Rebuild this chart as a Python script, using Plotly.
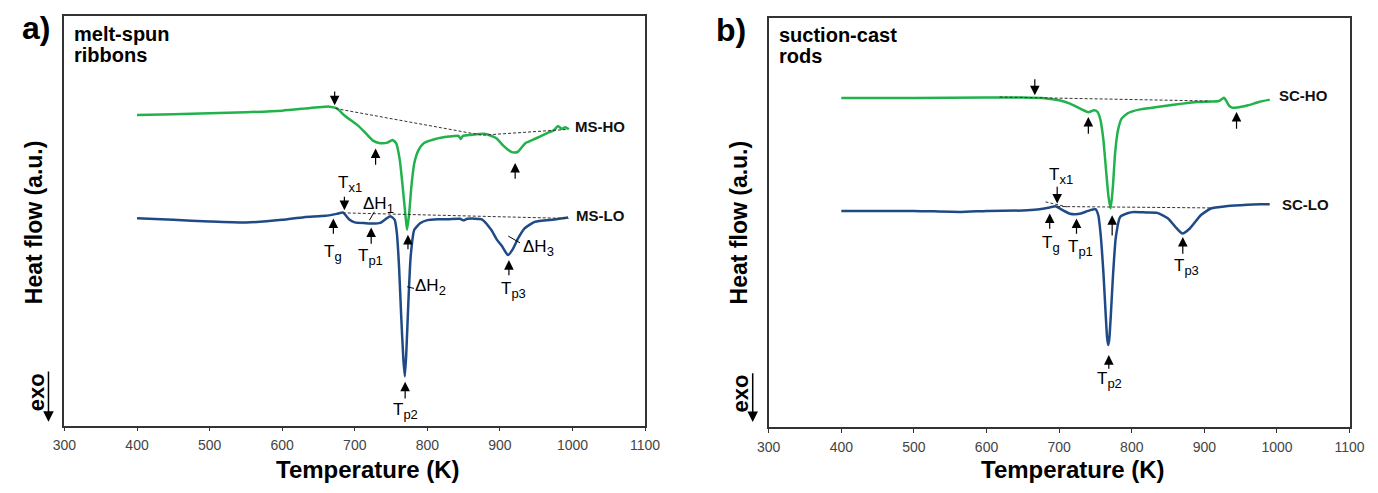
import plotly.graph_objects as go

# ---------------- data ----------------
# Panel a) melt-spun ribbons : temperature (K) and heat flow (a.u.)
ms_ho_T = [400, 450, 500, 550, 600, 630, 650, 665, 675, 685, 695, 705, 715, 725, 735, 745, 752, 757,
           762, 766, 770, 772, 775, 778, 782, 788, 795, 810, 830, 843, 846, 849, 860, 880, 895, 905,
           915, 920, 925, 935, 945, 955, 965, 975, 980, 985, 990, 995]
ms_ho_H = [311, 311.7, 312.7, 313.7, 315.3, 317.3, 318.7, 319.3, 317.7, 311, 305.3, 300, 292.7, 285.3,
           282.7, 283.3, 286, 282.7, 266, 239.3, 209.3, 196, 212.7, 239.3, 262.7, 276, 282.7, 286.7,
           289.3, 290, 287, 290, 291, 292, 287.7, 280, 274.3, 273.3, 274.3, 282.7, 286, 289.3, 292.7,
           296, 300, 297, 298.7, 296.7]

ms_lo_T = [400, 450, 500, 550, 600, 630, 660, 675, 684, 692, 700, 715, 725, 735, 743, 749, 755, 758,
           761, 764, 767, 769, 771, 774, 777, 782, 790, 800, 815, 830, 845, 850, 855, 875, 888, 896,
           903, 911, 918, 925, 934, 948, 975, 994]
ms_lo_H = [207.7, 206, 204.3, 203.3, 206, 208.7, 210, 212, 213.3, 206.5, 203.5, 202.7, 202.3, 203,
           207, 209.7, 206, 192.7, 159.3, 109.3, 66, 49.3, 72.7, 126, 169.3, 196, 202.5, 205.7, 206.5,
           206.7, 207, 205.5, 207, 206.5, 196, 186, 179.5, 170.7, 177, 187.4, 197.4, 204, 206.4, 208.4]

ms_ho_base_T = [673.5, 875.5, 990.7]
ms_ho_base_H = [317.4, 290.7, 296.4]
ms_lo_base_T = [683.5, 994.5]
ms_lo_base_H = [213.0, 207.4]

# Panel b) suction-cast rods
sc_ho_T = [400, 500, 600, 650, 680, 700, 715, 730, 740, 748, 753, 757, 761, 765, 768, 771, 774, 777,
           781, 786, 795, 810, 830, 850, 870, 890, 910, 920, 924, 927, 930, 934, 938, 945, 960, 975, 990]
sc_ho_H = [329.6, 329.6, 330, 330, 329.3, 327.3, 324, 318.6, 315.3, 317.3, 315.6, 307.3, 287.3, 254,
           230.6, 219, 240.6, 274, 297.3, 309, 314.6, 318, 320, 322, 324, 325.6, 326, 326.6, 328.5,
           330, 327, 322, 320, 320, 322.3, 325.6, 328]

sc_lo_T = [400, 500, 564, 600, 650, 670, 687, 695, 705, 715, 722, 730, 740, 750, 754, 757, 761, 764,
           766, 767.5, 769, 771, 774, 778, 784, 795, 803, 820, 835, 850, 860, 869.5, 880, 895, 909,
           930, 950, 977, 990]
sc_lo_H = [216.6, 216.6, 215.6, 216.6, 217, 218, 220, 221.3, 217.3, 213.8, 213.3, 214, 216.6, 218.3,
           212, 194, 154, 114, 90, 82.3, 88, 110, 150, 190, 210.6, 214.5, 215.6, 215, 214.6, 209,
           200.6, 194, 199, 212.3, 219, 221.3, 222.3, 223.3, 223.3]

sc_ho_base_T = [618, 908]
sc_ho_base_H = [330.6, 326.6]
sc_lo_base_T = [697.3, 908.5]
sc_lo_base_H = [221.0, 219.6]
sc_lo_tan_T = [681.2, 711.0]
sc_lo_tan_H = [225.6, 220.6]

x_ticks = [300, 400, 500, 600, 700, 800, 900, 1000, 1100]

# arrows: (T, tip heat flow, tail heat flow)
arrows_a = [(672.3, 320.7, 336), (728.7, 277.4, 259.7), (921, 263, 245.7),
            (685.7, 215.7, 230.7), (670.5, 207.4, 190.7), (722.6, 198.4, 180.7),
            (773.3, 191, 175), (912.4, 165.7, 149), (769.4, 44, 25.7)]
arrows_b = [(666.5, 332.3, 350), (740.2, 310.6, 292.3), (944.3, 315.6, 297.3),
            (697.3, 224, 242.3), (687, 214, 197.3), (723.9, 209, 192.3),
            (773, 212.3, 190.6), (870.3, 190.6, 172.3), (768.4, 72.3, 57)]

# labels: (main letters, subscript, T, heat flow)
labels_a = [("T", "x1", 694, 241.5), ("ΔH", "1", 733, 220.7), ("T", "g", 670, 173),
            ("T", "p1", 721.5, 169), ("ΔH", "2", 805, 139), ("ΔH", "3", 953, 178),
            ("T", "p3", 919, 135.7), ("T", "p2", 769.4, 15)]
labels_b = [("T", "x1", 702, 252), ("T", "g", 689, 183), ("T", "p1", 730, 179),
            ("T", "p3", 876, 160.6), ("T", "p2", 769, 47.3)]
leaders_a = [(720.2, 205.7, 727, 214), (772.3, 139, 781.6, 137.4), (911.6, 189.7, 927.6, 183)]

series_names_a = [("MS-HO", 1001, 299), ("MS-LO", 1001.6, 210.7)]
series_names_b = [("SC-HO", 1000.5, 332.3), ("SC-LO", 1004.7, 223.3)]

# ---------------- figure ----------------
GREEN = "#21b24b"
BLUE = "#1f4a86"
FONT = "Liberation Sans, Arial, sans-serif"
W, H = 1378, 493            # browser window
OFF = 8                     # default body margin of the html page
SX, X0 = 0.98, 12.0         # measured horizontal mapping page -> picture
FW, FH = 1372, H - 2 * OFF


def PX(X):
    """picture x (px) -> paper fraction"""
    return ((X - X0) / SX - OFF) / FW


def PY(Y):
    """picture y (px) -> paper fraction"""
    return 1 - (Y - OFF) / FH


fig = go.Figure()


def curve(T, Hf, color, xa, ya):
    fig.add_trace(go.Scatter(x=T, y=Hf, mode="lines", xaxis=xa, yaxis=ya,
                             line=dict(color=color, width=2.5, shape="spline", smoothing=0.5),
                             showlegend=False, hoverinfo="skip"))


def dashed(T, Hf, xa, ya):
    fig.add_trace(go.Scatter(x=T, y=Hf, mode="lines", xaxis=xa, yaxis=ya,
                             line=dict(color="#333", width=1, dash="3px,2px"),
                             showlegend=False, hoverinfo="skip"))


curve(ms_ho_T, ms_ho_H, GREEN, "x", "y")
curve(ms_lo_T, ms_lo_H, BLUE, "x", "y")
dashed(ms_ho_base_T, ms_ho_base_H, "x", "y")
dashed(ms_lo_base_T, ms_lo_base_H, "x", "y")

curve(sc_ho_T, sc_ho_H, GREEN, "x2", "y2")
curve(sc_lo_T, sc_lo_H, BLUE, "x2", "y2")
dashed(sc_ho_base_T, sc_ho_base_H, "x2", "y2")
dashed(sc_lo_base_T, sc_lo_base_H, "x2", "y2")
dashed(sc_lo_tan_T, sc_lo_tan_H, "x2", "y2")

ann = []
for xr, yr, arrs in (("x", "y", arrows_a), ("x2", "y2", arrows_b)):
    for T, tip, tail in arrs:
        ann.append(dict(x=T, y=tip, xref=xr, yref=yr, ax=T, ay=tail, axref=xr, ayref=yr,
                        text="", showarrow=True, arrowhead=2, arrowsize=1.6, arrowwidth=1.2,
                        arrowcolor="#000", standoff=0, startstandoff=0))
for xr, yr, labs in (("x", "y", labels_a), ("x2", "y2", labels_b)):
    for main, sub, T, hf in labs:
        txt = "%s<sub><span style='font-size:13px'>%s</span></sub>" % (main, sub)
        ann.append(dict(x=T, y=hf, xref=xr, yref=yr, text=txt, showarrow=False,
                        xanchor="center", yanchor="middle", font=dict(family=FONT, size=17, color="#000")))
for xr, yr, labs in (("x", "y", series_names_a), ("x2", "y2", series_names_b)):
    for txt, T, hf in labs:
        ann.append(dict(x=T, y=hf, xref=xr, yref=yr, text="<b>%s</b>" % txt, showarrow=False,
                        xanchor="left", yanchor="middle", font=dict(family=FONT, size=15, color="#111")))


def ptxt(text, X, Y, size, xanchor="center", textangle=0, yanchor="middle"):
    ann.append(dict(x=max(PX(X), 0), y=PY(Y), xref="paper", yref="paper", text=text, showarrow=False,
                    xanchor=xanchor, yanchor=yanchor, textangle=textangle,
                    font=dict(family=FONT, size=size, color="#000")))


ptxt("<b>a)</b>", 10, 8.5, 32, xanchor="left", yanchor="top")
ptxt("<b>b)</b>", 731, 9.5, 32, yanchor="top")
ptxt("<b>melt-spun</b>", 72, 34, 20, "left")
ptxt("<b>ribbons</b>", 72, 55, 20, "left")
ptxt("<b>suction-cast</b>", 777, 35, 20, "left")
ptxt("<b>rods</b>", 777, 56, 20, "left")
ptxt("<b>Heat flow (a.u.)</b>", 34, 222, 23, textangle=-90)
ptxt("<b>Heat flow (a.u.)</b>", 739, 222, 23, textangle=-90)
ptxt("<b>exo</b>", 36, 392, 22, textangle=-90)
ptxt("<b>exo</b>", 740, 393, 22, textangle=-90)
ptxt("<b>Temperature (K)</b>", 368, 484.5, 24, yanchor="bottom")
ptxt("<b>Temperature (K)</b>", 1072, 484.5, 24, yanchor="bottom")
for X, y0, y1 in ((48.3, 370, 421.7), (752.3, 371.7, 422)):
    ann.append(dict(x=PX(X), y=PY(y1), xref="paper", yref="paper", ax=0, ay=-(y1 - y0),
                    text="", showarrow=True, arrowhead=2, arrowsize=1.4, arrowwidth=1.5,
                    arrowcolor="#000", standoff=0))

shapes = [dict(type="line", xref="x", yref="y", x0=a, y0=b, x1=c, y1=d,
               line=dict(color="#000", width=1)) for a, b, c, d in leaders_a]

axis_common = dict(range=[300, 1100], tickvals=x_ticks, ticks="outside", ticklen=4, tickwidth=1.2,
                   tickcolor="#333", showline=True, linecolor="#333", linewidth=1.5, mirror=True,
                   showgrid=False, zeroline=False, ticklabelstandoff=2,
                   tickfont=dict(family=FONT, size=14, color="#444"))
yaxis_common = dict(range=[0, 410], showticklabels=False, ticks="", showline=True, linecolor="#333",
                    linewidth=1.5, mirror=True, showgrid=False, zeroline=False)

fig.update_layout(
    width=FW, height=FH, margin=dict(l=0, r=0, t=0, b=0),
    paper_bgcolor="white", plot_bgcolor="white",
    xaxis=dict(domain=[PX(64.3), PX(644.7)], anchor="y", **axis_common),
    yaxis=dict(domain=[PY(425.7), PY(16)], anchor="x", **yaxis_common),
    xaxis2=dict(domain=[PX(768.3), PX(1349)], anchor="y2", **axis_common),
    yaxis2=dict(domain=[PY(427.3), PY(17.7)], anchor="x2", **yaxis_common),
    annotations=ann, shapes=shapes, showlegend=False,
)

fig.write_html("out.html")
